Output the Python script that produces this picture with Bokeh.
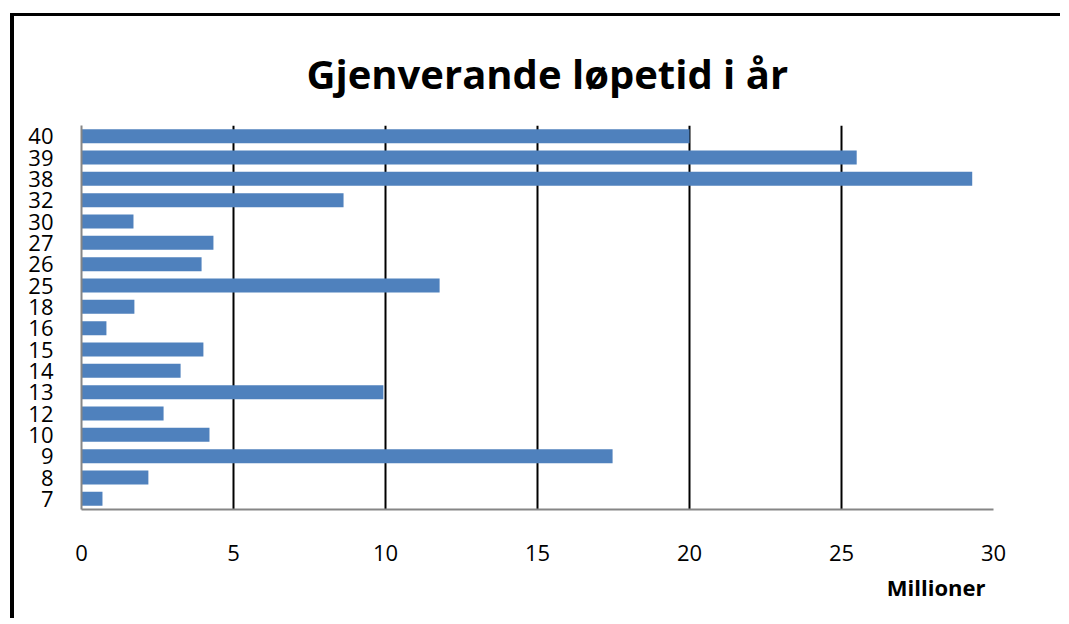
from bokeh.plotting import figure
from bokeh.models import FactorRange, Range1d, FixedTicker, Title
from bokeh.embed import file_html
from bokeh.resources import INLINE

categories = ["7", "8", "9", "10", "12", "13", "14", "15", "16", "18",
              "25", "26", "27", "30", "32", "38", "39", "40"]
values = [0.69, 2.20, 17.47, 4.21, 2.70, 9.93, 3.26, 4.01, 0.82, 1.74,
          11.78, 3.95, 4.34, 1.71, 8.62, 29.3, 25.5, 20.0]
x_ticks = [0, 5, 10, 15, 20, 25, 30]
title_text = "Gjenverande løpetid i år"
unit_text = "Millioner"

FONT = "Open Sans"

p = figure(width=1050, height=605, output_backend="svg", toolbar_location=None,
           y_range=FactorRange(factors=categories, range_padding=0),
           x_range=Range1d(0, 30),
           min_border_left=67, min_border_right=71,
           min_border_top=109, min_border_bottom=112)
p.styles = {"margin-left": "10px", "margin-top": "13px",
            "border-left": "4px solid black", "border-top": "3px solid black"}

p.hbar(y=categories, right=values, left=0, height=0.66, color="#4F81BD", line_color=None)

p.title.text = title_text
p.title.align = "left"
p.title.offset = 225
p.title.standoff = 50
p.title.text_font = FONT
p.title.text_font_style = "bold"
p.title.text_font_size = "40px"
p.title.text_color = "black"

p.add_layout(Title(text=unit_text, align="right", offset=8, standoff=12,
                   text_font=FONT, text_font_style="bold", text_font_size="22px",
                   text_color="black"), "below")

p.outline_line_color = None
p.ygrid.grid_line_color = None
p.xgrid.grid_line_color = "black"
p.xgrid.grid_line_width = 2
p.xaxis.ticker = FixedTicker(ticks=x_ticks)
p.xgrid.ticker = FixedTicker(ticks=x_ticks[1:])

for ax in (p.xaxis[0], p.yaxis[0]):
    ax.axis_line_color = "#868686"
    ax.axis_line_width = 2
    ax.major_tick_line_color = None
    ax.minor_tick_line_color = None
    ax.major_label_text_font = FONT
    ax.major_label_text_font_size = "22px"
    ax.major_label_text_color = "black"

p.xaxis.major_label_standoff = 29
p.yaxis.major_label_standoff = 22

open("out.html", "w").write(file_html(p, INLINE))
